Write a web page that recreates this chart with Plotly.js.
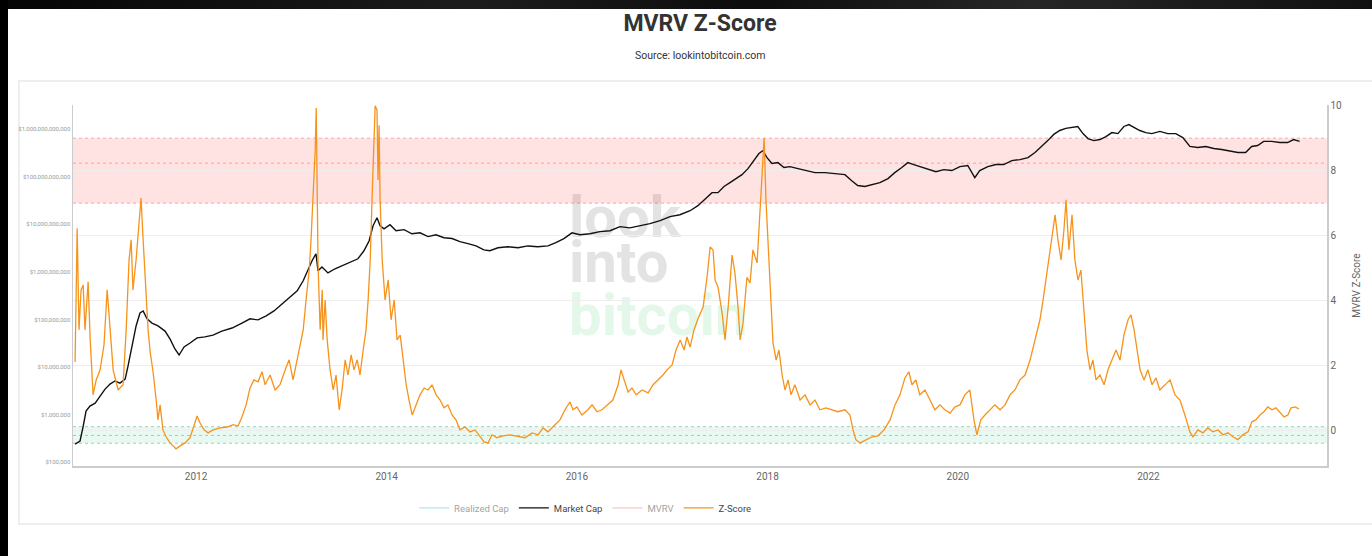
<!DOCTYPE html>
<html>
<head>
<meta charset="utf-8">
<script src="https://cdn.plot.ly/plotly-3.0.1.min.js"></script>
<style>
  html, body { margin: 0; padding: 0; background: #ffffff; width: 1372px; height: 556px; overflow: hidden; }
  #topband { position: absolute; left: 0; top: 0; width: 1372px; height: 9px; background: linear-gradient(90deg, #050505 0%, #1c1c1c 35%, #0d0d0d 55%, #262626 75%, #111 100%); z-index: 5; }
  #leftband { position: absolute; left: 0; top: 0; width: 8px; height: 556px; background: #000; z-index: 5; }
  #frame { position: absolute; left: 18px; top: 80px; width: 1360px; height: 445px; border: 2px solid #eeeeee; box-sizing: border-box; z-index: 0; }
  #chart { position: absolute; left: 0; top: 0; width: 1372px; height: 556px; z-index: 1; }
</style>
</head>
<body>
<div id="frame"></div>
<div id="chart"></div>
<div id="topband"></div>
<div id="leftband"></div>
<script>
// ---- Data (dates as decimal years) ----
const mcYears = [2010.730,2010.782,2010.814,2010.846,2010.887,2010.940,2010.992,2011.045,2011.097,2011.150,2011.202,2011.255,2011.286,2011.328,2011.370,2011.412,2011.444,2011.486,2011.538,2011.601,2011.675,2011.727,2011.780,2011.822,2011.874,2011.937,2012.011,2012.095,2012.179,2012.273,2012.378,2012.483,2012.567,2012.651,2012.735,2012.819,2012.903,2012.987,2013.061,2013.124,2013.176,2013.218,2013.260,2013.281,2013.323,2013.386,2013.460,2013.533,2013.617,2013.701,2013.764,2013.817,2013.859,2013.901,2013.932,2013.974,2014.037,2014.100,2014.184,2014.268,2014.352,2014.436,2014.520,2014.604,2014.688,2014.772,2014.856,2014.940,2015.024,2015.087,2015.171,2015.276,2015.381,2015.486,2015.591,2015.696,2015.780,2015.864,2015.948,2016.032,2016.137,2016.242,2016.347,2016.452,2016.557,2016.662,2016.767,2016.872,2016.977,2017.082,2017.187,2017.271,2017.345,2017.418,2017.481,2017.544,2017.607,2017.670,2017.733,2017.796,2017.859,2017.911,2017.953,2017.995,2018.048,2018.111,2018.174,2018.237,2018.321,2018.405,2018.499,2018.604,2018.709,2018.814,2018.887,2018.950,2019.024,2019.098,2019.182,2019.266,2019.339,2019.413,2019.476,2019.539,2019.602,2019.686,2019.770,2019.854,2019.938,2020.022,2020.106,2020.179,2020.231,2020.315,2020.399,2020.483,2020.567,2020.651,2020.735,2020.809,2020.882,2020.945,2021.008,2021.071,2021.134,2021.197,2021.260,2021.313,2021.365,2021.428,2021.491,2021.554,2021.617,2021.680,2021.743,2021.795,2021.848,2021.911,2021.974,2022.037,2022.121,2022.205,2022.289,2022.362,2022.436,2022.520,2022.604,2022.688,2022.772,2022.856,2022.940,2023.024,2023.087,2023.150,2023.213,2023.297,2023.381,2023.465,2023.528,2023.591];
const marketCap = [2.4e5,2.8e5,5.7e5,1.19e6,1.51e6,1.75e6,2.45e6,3.44e6,4.4e6,5.1e6,4.6e6,5.6e6,1.05e7,2.77e7,7.3e7,1.37e8,1.51e8,1.03e8,8.4e7,7.3e7,5.7e7,3.9e7,2.4e7,1.79e7,2.64e7,3.2e7,4.1e7,4.3e7,4.7e7,5.7e7,6.6e7,8.4e7,1.03e8,9.8e7,1.19e8,1.51e8,2.12e8,2.98e8,3.98e8,6.5e8,1.16e9,1.71e9,2.4e9,1.05e9,1.27e9,9.5e8,1.16e9,1.34e9,1.55e9,1.88e9,2.77e9,4.5e9,9.3e9,1.37e10,9.3e9,8.0e9,9.8e9,7.3e9,7.7e9,6.3e9,6.6e9,5.5e9,6.0e9,5.2e9,5.0e9,4.3e9,3.9e9,3.5e9,2.9e9,2.77e9,3.2e9,3.36e9,3.2e9,3.5e9,3.36e9,3.5e9,4.1e9,5.0e9,6.6e9,6.0e9,6.3e9,7.0e9,7.3e9,8.9e9,8.4e9,9.3e9,1.03e10,1.19e10,1.44e10,1.58e10,1.92e10,2.45e10,3.44e10,4.6e10,4.6e10,6.2e10,7.5e10,9.1e10,1.10e11,1.47e11,2.17e11,3.05e11,3.5e11,2.51e11,1.88e11,1.97e11,1.55e11,1.62e11,1.47e11,1.34e11,1.21e11,1.21e11,1.16e11,1.10e11,8.2e10,6.5e10,6.2e10,6.8e10,7.5e10,9.1e10,1.21e11,1.55e11,1.97e11,1.79e11,1.62e11,1.47e11,1.27e11,1.40e11,1.34e11,1.62e11,1.71e11,9.5e10,1.34e11,1.62e11,1.79e11,1.79e11,2.17e11,2.28e11,2.51e11,3.2e11,4.3e11,5.7e11,7.7e11,9.3e11,1.03e12,1.08e12,1.13e12,8.0e11,6.3e11,5.7e11,6.0e11,6.9e11,8.4e11,8.0e11,1.13e12,1.24e12,1.08e12,9.3e11,8.4e11,8.0e11,8.9e11,8.0e11,8.0e11,6.6e11,4.3e11,4.1e11,4.3e11,3.9e11,3.7e11,3.5e11,3.2e11,3.2e11,4.3e11,4.5e11,5.5e11,5.5e11,5.2e11,5.2e11,6.0e11,5.5e11];

const zYears = [2010.730,2010.751,2010.772,2010.793,2010.814,2010.835,2010.867,2010.888,2010.919,2010.951,2010.993,2011.035,2011.066,2011.098,2011.129,2011.182,2011.234,2011.266,2011.297,2011.318,2011.339,2011.371,2011.402,2011.423,2011.444,2011.476,2011.497,2011.518,2011.549,2011.581,2011.602,2011.623,2011.654,2011.686,2011.728,2011.759,2011.791,2011.833,2011.885,2011.938,2011.980,2012.011,2012.043,2012.085,2012.127,2012.179,2012.253,2012.326,2012.389,2012.441,2012.483,2012.525,2012.567,2012.609,2012.651,2012.693,2012.725,2012.777,2012.830,2012.882,2012.935,2012.977,2013.019,2013.061,2013.093,2013.124,2013.156,2013.187,2013.208,2013.229,2013.250,2013.261,2013.271,2013.282,2013.303,2013.324,2013.334,2013.355,2013.376,2013.408,2013.439,2013.471,2013.502,2013.534,2013.565,2013.597,2013.628,2013.660,2013.691,2013.723,2013.754,2013.786,2013.807,2013.828,2013.849,2013.870,2013.880,2013.901,2013.912,2013.922,2013.933,2013.954,2013.985,2014.017,2014.048,2014.080,2014.111,2014.143,2014.174,2014.206,2014.237,2014.269,2014.311,2014.353,2014.395,2014.437,2014.479,2014.521,2014.563,2014.604,2014.646,2014.688,2014.730,2014.772,2014.825,2014.878,2014.930,2014.983,2015.025,2015.067,2015.109,2015.161,2015.224,2015.298,2015.381,2015.455,2015.529,2015.592,2015.644,2015.697,2015.770,2015.823,2015.875,2015.928,2015.959,2016.001,2016.054,2016.117,2016.159,2016.211,2016.264,2016.327,2016.379,2016.432,2016.463,2016.495,2016.537,2016.579,2016.621,2016.684,2016.747,2016.799,2016.852,2016.904,2016.946,2016.999,2017.041,2017.083,2017.125,2017.156,2017.188,2017.230,2017.272,2017.324,2017.366,2017.398,2017.429,2017.450,2017.482,2017.524,2017.555,2017.587,2017.629,2017.660,2017.692,2017.713,2017.744,2017.786,2017.818,2017.849,2017.891,2017.923,2017.944,2017.965,2017.986,2018.007,2018.028,2018.059,2018.091,2018.122,2018.154,2018.185,2018.217,2018.248,2018.290,2018.343,2018.395,2018.448,2018.500,2018.553,2018.616,2018.679,2018.742,2018.815,2018.868,2018.899,2018.931,2018.973,2019.036,2019.099,2019.162,2019.225,2019.288,2019.340,2019.393,2019.445,2019.487,2019.519,2019.560,2019.602,2019.655,2019.708,2019.760,2019.813,2019.865,2019.918,2019.970,2020.023,2020.075,2020.128,2020.170,2020.201,2020.243,2020.285,2020.338,2020.390,2020.443,2020.495,2020.548,2020.600,2020.653,2020.705,2020.758,2020.810,2020.863,2020.894,2020.926,2020.957,2020.989,2021.020,2021.052,2021.083,2021.115,2021.136,2021.167,2021.199,2021.230,2021.262,2021.293,2021.325,2021.356,2021.388,2021.419,2021.451,2021.493,2021.535,2021.577,2021.619,2021.661,2021.703,2021.745,2021.787,2021.818,2021.850,2021.881,2021.913,2021.955,2021.997,2022.039,2022.081,2022.123,2022.175,2022.228,2022.280,2022.333,2022.385,2022.438,2022.469,2022.522,2022.574,2022.627,2022.679,2022.732,2022.784,2022.837,2022.889,2022.942,2022.994,2023.047,2023.089,2023.131,2023.173,2023.215,2023.257,2023.299,2023.341,2023.383,2023.425,2023.467,2023.499,2023.541,2023.582];
const zScore = [2.11,6.23,3.10,4.33,4.48,3.10,4.58,2.79,1.10,1.56,1.87,2.64,4.33,3.10,1.87,1.25,1.41,3.10,5.25,5.87,4.33,5.25,6.48,7.16,5.87,4.33,3.10,2.42,1.81,0.94,0.33,0.79,0.02,-0.19,-0.38,-0.47,-0.56,-0.47,-0.38,-0.22,0.18,0.45,0.24,0.02,-0.07,0.02,0.08,0.11,0.18,0.14,0.42,0.79,1.31,1.56,1.50,1.81,1.41,1.71,1.25,1.41,1.87,2.18,1.56,2.18,2.64,3.10,4.02,4.94,5.87,7.25,8.64,9.93,7.41,5.10,3.10,4.33,2.79,4.02,2.79,1.87,1.25,1.71,0.64,1.25,2.18,1.71,2.33,1.87,2.18,1.71,2.48,3.10,4.02,5.25,7.10,9.25,10.0,9.87,7.71,9.40,7.10,5.25,4.02,4.64,3.41,4.02,2.79,2.94,2.18,1.41,0.94,0.48,0.79,1.10,1.31,1.25,1.41,1.10,0.94,0.70,0.79,0.48,0.33,0.02,0.11,-0.04,0.02,-0.19,-0.35,-0.38,-0.13,-0.22,-0.16,-0.13,-0.19,-0.22,-0.07,-0.13,0.08,-0.04,0.18,0.33,0.64,0.88,0.64,0.73,0.48,0.64,0.79,0.58,0.64,0.79,0.94,1.41,1.87,1.56,1.19,1.31,1.10,1.25,1.16,1.41,1.56,1.71,1.87,2.02,2.48,2.79,2.48,2.88,2.57,3.10,3.46,3.80,4.72,5.65,5.56,4.63,4.42,3.61,2.79,3.80,5.40,4.85,3.80,2.79,3.31,4.72,4.54,5.56,5.16,6.69,7.71,9.00,7.10,5.65,4.42,2.70,2.17,2.48,1.71,1.25,1.56,1.10,1.41,0.94,1.10,0.79,0.94,0.64,0.70,0.64,0.58,0.64,0.48,0.02,-0.28,-0.38,-0.28,-0.19,-0.16,0.02,0.33,0.79,1.10,1.62,1.81,1.41,1.56,1.10,1.25,0.94,0.64,0.79,0.64,0.54,0.73,0.79,1.10,1.25,0.33,-0.13,0.33,0.48,0.64,0.79,0.64,0.79,1.10,1.25,1.56,1.71,2.17,2.79,3.41,4.02,4.63,5.25,5.87,6.64,5.87,5.25,6.18,7.10,5.56,6.64,5.25,4.63,4.94,3.71,2.48,1.87,2.17,1.56,1.71,1.41,1.87,2.17,2.48,2.17,2.94,3.41,3.56,3.10,2.48,1.87,1.56,1.87,1.41,1.62,1.25,1.41,1.56,1.10,0.94,0.48,-0.04,-0.19,0.02,-0.07,0.08,-0.04,0.02,-0.13,-0.07,-0.19,-0.28,-0.13,-0.04,0.27,0.33,0.48,0.58,0.73,0.64,0.70,0.58,0.42,0.48,0.70,0.73,0.67];

const xTickYears = ['2012','2014','2016','2018','2020','2022'];
const capTickVals = [1e5,1e6,1e7,1e8,1e9,1e10,1e11,1e12];
const capTickText = ['$100,000','$1,000,000','$10,000,000','$100,000,000','$1,000,000,000','$10,000,000,000','$100,000,000,000','$1,000,000,000,000'];
const zTickVals = [0,2,4,6,8,10];
const redBand = {low: 7, mid: 8.23, high: 9};
const greenBand = {low: -0.39, mid: -0.15, high: 0.12};

// ---- helpers ----
function yearToDate(y) {
  const yr = Math.floor(y);
  const s = Date.UTC(yr, 0, 1), e = Date.UTC(yr + 1, 0, 1);
  return new Date(s + (y - yr) * (e - s)).toISOString().slice(0, 10);
}
const mcDates = mcYears.map(yearToDate);
const zDates = zYears.map(yearToDate);

const traces = [
  { name: 'Realized Cap', x: [mcDates[0]], y: [null], type: 'scatter', mode: 'lines',
    line: {color: '#7fd3f7', width: 1.5}, visible: 'legendonly', yaxis: 'y' },
  { name: 'Market Cap', x: mcDates, y: marketCap, type: 'scatter', mode: 'lines',
    line: {color: '#111111', width: 1.4}, yaxis: 'y' },
  { name: 'MVRV', x: [zDates[0]], y: [null], type: 'scatter', mode: 'lines',
    line: {color: '#f7a1a1', width: 1.5}, visible: 'legendonly', yaxis: 'y2' },
  { name: 'Z-Score', x: zDates, y: zScore, type: 'scatter', mode: 'lines',
    line: {color: '#f7931a', width: 1.3}, yaxis: 'y2' }
];

function hline(v, color) {
  return { type: 'line', xref: 'paper', x0: 0, x1: 1, yref: 'y2', y0: v, y1: v,
           line: {color: color, width: 1, dash: 'dot'}, layer: 'below' };
}

const wm = 'data:image/svg+xml;utf8,' + encodeURIComponent(
  '<svg xmlns="http://www.w3.org/2000/svg" width="200" height="160" viewBox="0 0 200 160">' +
  '<g font-family="Roboto, Arial, sans-serif" font-weight="700" font-size="58">' +
  '<text x="4" y="52" fill="#e3e3e3">look</text>' +
  '<text x="4" y="97" fill="#e3e3e3">into</text>' +
  '<text x="4" y="150" fill="#e3f8e8">bitcoin</text>' +
  '</g></svg>');

const layout = {
  width: 1372, height: 556,
  margin: {l: 73, r: 45, t: 105, b: 90},
  paper_bgcolor: 'rgba(0,0,0,0)',
  plot_bgcolor: 'rgba(0,0,0,0)',
  font: {family: 'Roboto, Arial, sans-serif', color: '#555'},
  title: { text: '<b>MVRV Z-Score</b>', x: 0.5, xref: 'paper', xanchor: 'center',
           y: 1 - 23/556, yref: 'container', yanchor: 'middle',
           font: {family: 'Roboto, Arial, sans-serif', size: 23, color: '#333'} },
  showlegend: true,
  legend: { orientation: 'h', x: 0.272, xanchor: 'left', y: -0.116, yanchor: 'middle',
            font: {size: 9.5, color: '#444'}, bgcolor: 'rgba(0,0,0,0)', itemclick: false },
  xaxis: {
    type: 'date', range: ['2010-09-16', '2023-11-17'],
    tickvals: xTickYears.map(y => y + '-01-01'), ticktext: xTickYears,
    tickfont: {size: 10, color: '#666'}, showgrid: false, zeroline: false,
    showline: true, linecolor: '#cccccc', linewidth: 1.5, ticks: ''
  },
  yaxis: {
    type: 'log', range: [4.922, 12.504],
    tickvals: capTickVals, ticktext: capTickText,
    tickfont: {size: 6, color: '#9a9a9a'}, showgrid: false, zeroline: false,
    showline: true, linecolor: '#cccccc', linewidth: 1.5, ticks: ''
  },
  yaxis2: {
    overlaying: 'y', side: 'right', range: [-1.09, 10.02],
    tickvals: zTickVals, tickfont: {size: 10, color: '#666'},
    showgrid: true, gridcolor: '#eeeeee', gridwidth: 1, zeroline: false,
    showline: true, linecolor: '#cccccc', linewidth: 1.5, ticks: '',
    title: {text: 'MVRV Z-Score', font: {size: 10, color: '#666'}, standoff: 12}
  },
  shapes: [
    { type: 'rect', xref: 'paper', x0: 0, x1: 1, yref: 'y2', y0: redBand.low, y1: redBand.high,
      fillcolor: 'rgba(255,0,0,0.11)', line: {width: 0}, layer: 'below' },
    hline(redBand.high, 'rgba(240,110,110,0.55)'),
    hline(redBand.mid, 'rgba(240,110,110,0.55)'),
    hline(redBand.low, 'rgba(240,110,110,0.55)'),
    { type: 'rect', xref: 'paper', x0: 0, x1: 1, yref: 'y2', y0: greenBand.low, y1: greenBand.high,
      fillcolor: 'rgba(0,190,110,0.09)', line: {width: 0}, layer: 'below' },
    hline(greenBand.high, 'rgba(60,180,120,0.5)'),
    hline(greenBand.mid, 'rgba(60,180,120,0.5)'),
    hline(greenBand.low, 'rgba(60,180,120,0.5)')
  ],
  images: [
    { source: wm, xref: 'paper', yref: 'paper', x: (565-73)/1254, y: (466-185)/361,
      sizex: 200/1254, sizey: 160/361, xanchor: 'left', yanchor: 'top',
      sizing: 'stretch', layer: 'below' }
  ],
  annotations: [
    { text: 'Source: lookintobitcoin.com', xref: 'paper', yref: 'paper',
      x: (700-73)/1254, y: (466-56)/361, xanchor: 'center', yanchor: 'middle',
      showarrow: false, font: {size: 10.5, color: '#333'} }
  ]
};

Plotly.newPlot('chart', traces, layout, {displayModeBar: false, staticPlot: true});
</script>
</body>
</html>
